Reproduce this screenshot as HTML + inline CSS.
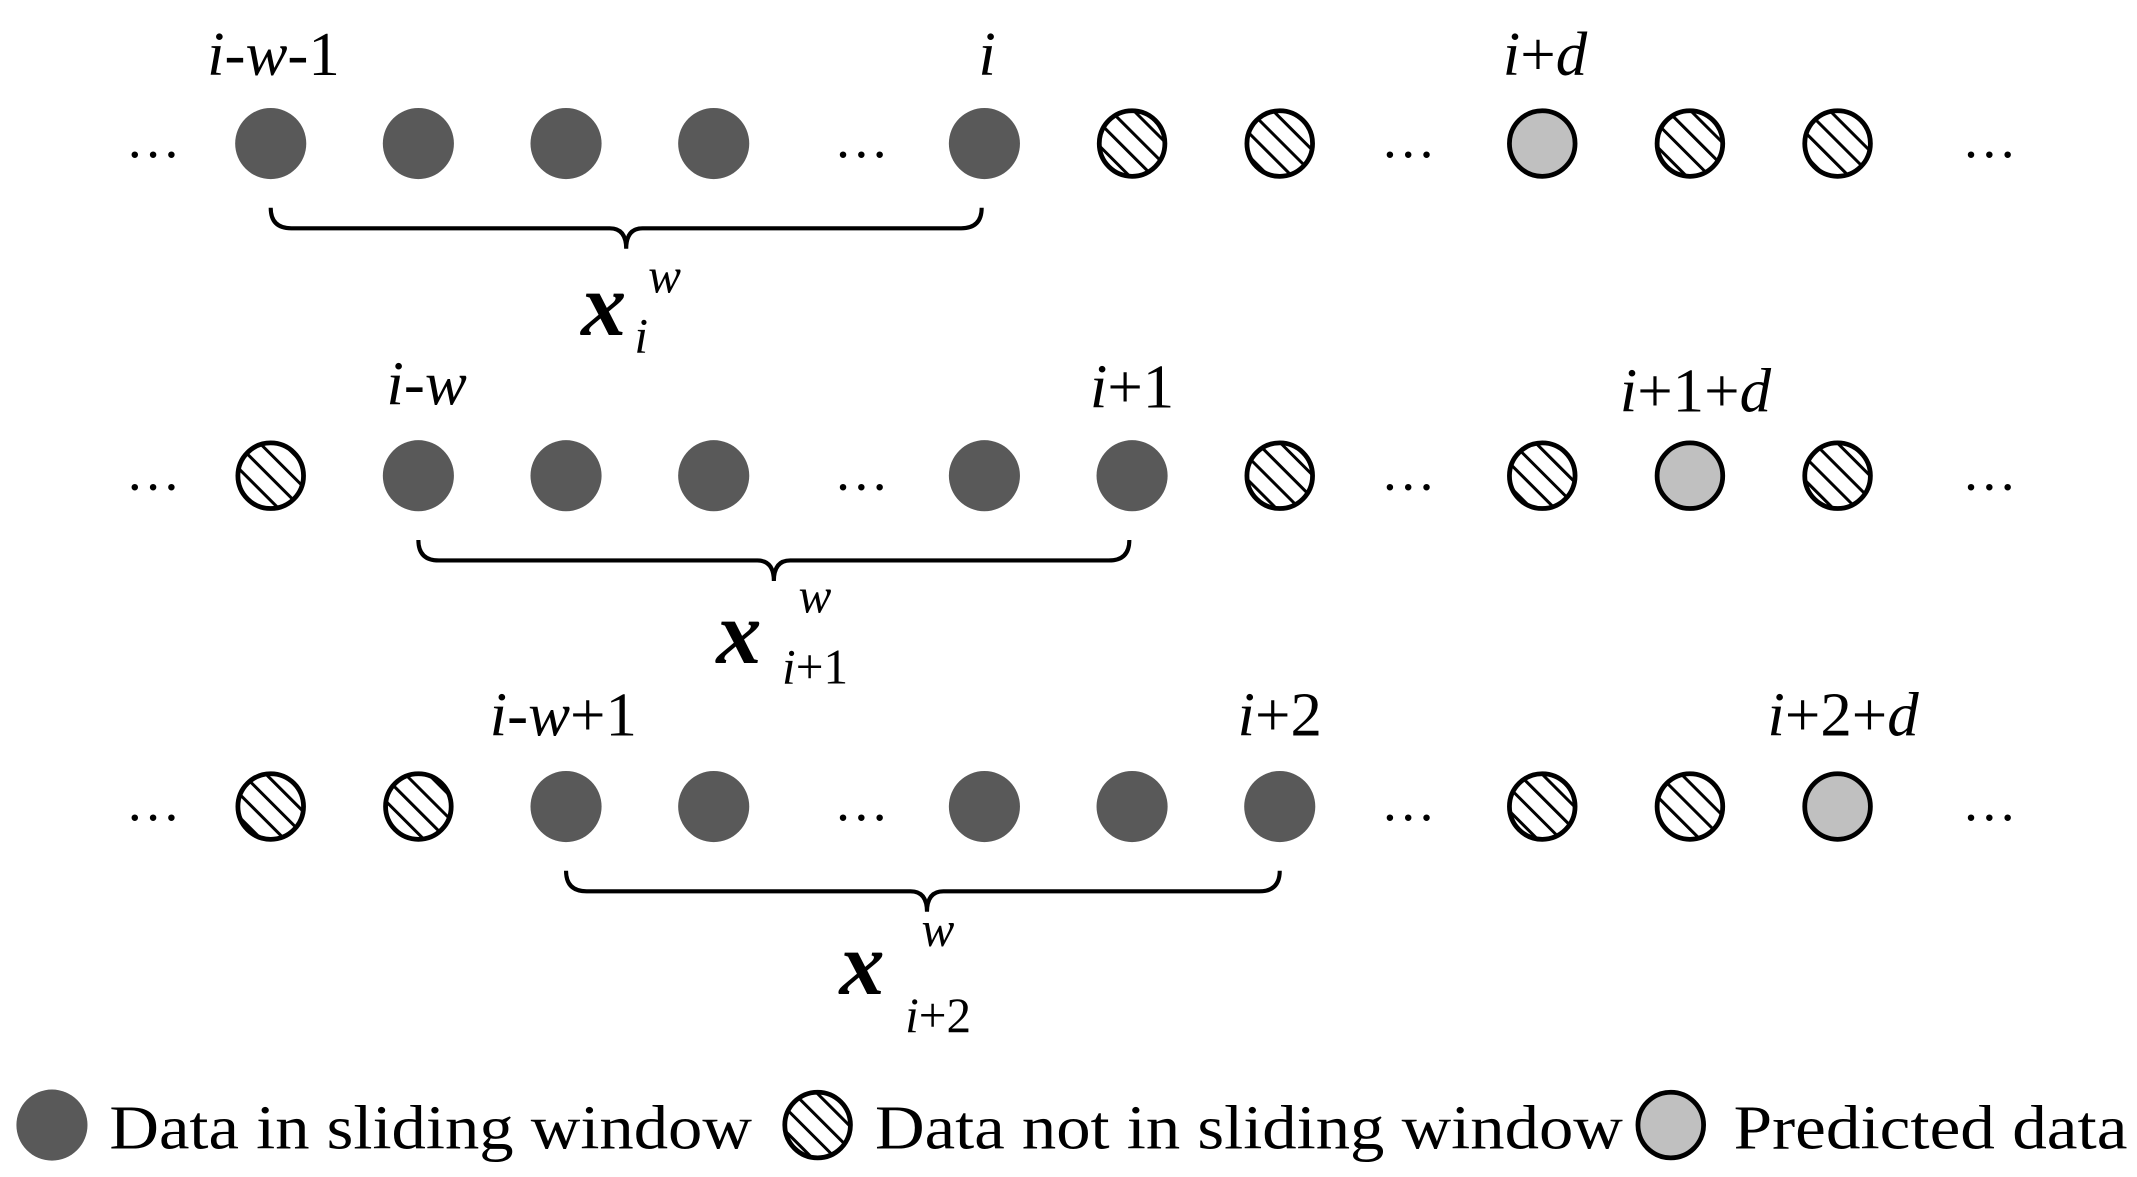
<!DOCTYPE html>
<html><head><meta charset="utf-8"><style>html,body{margin:0;padding:0;background:#fff}svg{display:block}</style></head>
<body>
<svg width="2137" height="1177" viewBox="0 0 1563 861" preserveAspectRatio="none" xmlns="http://www.w3.org/2000/svg" font-family="Liberation Serif, serif">
<defs>
<pattern id="h" patternUnits="userSpaceOnUse" width="12" height="12" patternTransform="rotate(-45)">
<rect width="12" height="12" fill="#fff"/><rect x="0" y="0" width="2.2" height="12" fill="#000"/>
</pattern>
</defs>
<g id="c">
<!-- row 1 -->
<g fill="#595959">
<circle cx="198" cy="105" r="26"/><circle cx="306" cy="105" r="26"/><circle cx="414" cy="105" r="26"/><circle cx="522" cy="105" r="26"/><circle cx="720" cy="105" r="26"/>
<circle cx="306" cy="348" r="26"/><circle cx="414" cy="348" r="26"/><circle cx="522" cy="348" r="26"/><circle cx="720" cy="348" r="26"/><circle cx="828" cy="348" r="26"/>
<circle cx="414" cy="590" r="26"/><circle cx="522" cy="590" r="26"/><circle cx="720" cy="590" r="26"/><circle cx="828" cy="590" r="26"/><circle cx="936" cy="590" r="26"/>
<circle cx="38" cy="823" r="26"/>
</g>
<g fill="url(#h)" stroke="#000" stroke-width="3.5">
<circle cx="828" cy="105" r="24"/><circle cx="936" cy="105" r="24"/><circle cx="1236" cy="105" r="24"/><circle cx="1344" cy="105" r="24"/>
<circle cx="198" cy="348" r="24"/><circle cx="936" cy="348" r="24"/><circle cx="1128" cy="348" r="24"/><circle cx="1344" cy="348" r="24"/>
<circle cx="198" cy="590" r="24"/><circle cx="306" cy="590" r="24"/><circle cx="1128" cy="590" r="24"/><circle cx="1236" cy="590" r="24"/>
<circle cx="598" cy="823" r="24"/>
</g>
<g fill="#c0c0c0" stroke="#000" stroke-width="3.5">
<circle cx="1128" cy="105" r="24"/><circle cx="1236" cy="348" r="24"/><circle cx="1344" cy="590" r="24"/>
<circle cx="1222" cy="823" r="24"/>
</g>
</g>
<g font-size="40" text-anchor="middle" fill="#000">
<text x="112" y="115">…</text><text x="630" y="115">…</text><text x="1030" y="115">…</text><text x="1455" y="115">…</text>
<text x="112" y="358">…</text><text x="630" y="358">…</text><text x="1030" y="358">…</text><text x="1455" y="358">…</text>
<text x="112" y="600">…</text><text x="630" y="600">…</text><text x="1030" y="600">…</text><text x="1455" y="600">…</text>
</g>
<g fill="none" stroke="#000" stroke-width="3">
<path d="M198 152 Q198 167 213 167 L446 167 Q458 167 458 182 Q458 167 470 167 L703 167 Q718 167 718 152"/>
<path d="M306 395 Q306 410 321 410 L554 410 Q566 410 566 425 Q566 410 578 410 L811 410 Q826 410 826 395"/>
<path d="M414 637 Q414 652 429 652 L666 652 Q678 652 678 667 Q678 652 690 652 L921 652 Q936 652 936 637"/>
</g>
<g font-size="46" fill="#000" text-anchor="middle">
<text x="200" y="55"><tspan font-style="italic">i</tspan>-<tspan font-style="italic">w</tspan>-1</text>
<text x="722" y="55" font-style="italic">i</text>
<text x="1130" y="55"><tspan font-style="italic">i</tspan>+<tspan font-style="italic">d</tspan></text>
<text x="312" y="296"><tspan font-style="italic">i</tspan>-<tspan font-style="italic">w</tspan></text>
<text x="828" y="298"><tspan font-style="italic">i</tspan>+1</text>
<text x="1240" y="301"><tspan font-style="italic">i</tspan>+1+<tspan font-style="italic">d</tspan></text>
<text x="412" y="538"><tspan font-style="italic">i</tspan>-<tspan font-style="italic">w</tspan>+1</text>
<text x="936" y="538"><tspan font-style="italic">i</tspan>+2</text>
<text x="1348" y="538"><tspan font-style="italic">i</tspan>+2+<tspan font-style="italic">d</tspan></text>
</g>
<g fill="#000">
<text x="425" y="245" font-size="66" font-weight="bold" font-style="italic">x</text>
<text x="474" y="214" font-size="36" font-style="italic">w</text>
<text x="464" y="258" font-size="36" font-style="italic">i</text>
<text x="524" y="485" font-size="66" font-weight="bold" font-style="italic">x</text>
<text x="584" y="448" font-size="36" font-style="italic">w</text>
<text x="572" y="500" font-size="36"><tspan font-style="italic">i</tspan>+1</text>
<text x="614" y="727" font-size="66" font-weight="bold" font-style="italic">x</text>
<text x="674" y="692" font-size="36" font-style="italic">w</text>
<text x="662" y="755" font-size="36"><tspan font-style="italic">i</tspan>+2</text>
</g>
<g font-size="46" fill="#000">
<text x="80" y="840" textLength="470" lengthAdjust="spacingAndGlyphs">Data in sliding window</text>
<text x="640" y="840" textLength="547" lengthAdjust="spacingAndGlyphs">Data not in sliding window</text>
<text x="1268" y="840" textLength="288" lengthAdjust="spacingAndGlyphs">Predicted data</text>
</g>
</svg>
</body></html>
